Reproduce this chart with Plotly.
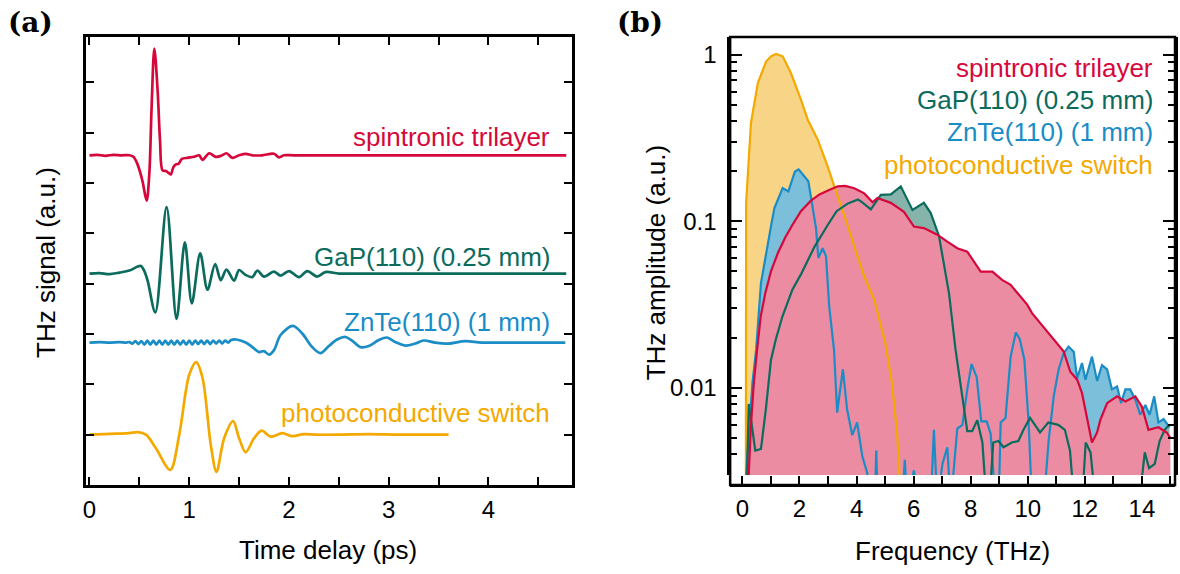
import math
import plotly.graph_objects as go

W, H = 1180, 574

# ---------------- panel (a): THz waveforms (time delay in ps, signal in a.u.) ----------------
t_spin = [0.0, 0.08, 0.16, 0.24, 0.32, 0.40, 0.44, 0.48, 0.53, 0.573, 0.60, 0.623, 0.65, 0.683, 0.707,
          0.733, 0.766, 0.793, 0.816, 0.84, 0.866, 0.893, 0.926, 0.983, 1.05, 1.10, 1.133, 1.20, 1.266,
          1.32, 1.373, 1.433, 1.50, 1.566, 1.633, 1.73, 1.85, 1.90, 1.95, 2.05, 2.5, 3.0, 3.5, 4.0, 4.5, 4.78]
s_spin = [0.0, 0.01, -0.01, 0.01, 0.0, 0.0, -0.03, -0.17, -0.50, -0.90, -0.36, 0.96, 2.12, 1.29, 0.30,
          -0.30, -0.31, -0.35, -0.38, -0.24, -0.18, -0.17, -0.07, -0.05, -0.03, 0.0, -0.09, 0.04, -0.03,
          -0.01, 0.04, -0.05, 0.0, 0.03, 0.0, 0.0, 0.03, -0.04, 0.0, 0.0, 0.0, 0.0, 0.0, 0.0, 0.0, 0.0]

t_gap = [0.0, 0.1, 0.2, 0.3, 0.40, 0.483, 0.516, 0.55, 0.583, 0.66, 0.773, 0.873, 0.956, 1.026, 1.11,
         1.183, 1.26, 1.316, 1.373, 1.45, 1.50, 1.56, 1.633, 1.683, 1.75, 1.85, 1.916, 2.0, 2.1, 2.183,
         2.283, 2.366, 2.5, 2.65, 2.83, 3.2, 3.6, 4.0, 4.4, 4.78]
s_gap = [0.0, 0.01, -0.01, 0.02, 0.06, 0.14, 0.15, 0.05, -0.14, -0.77, 1.32, -0.90, 0.62, -0.59, 0.40,
         -0.32, 0.19, -0.13, 0.08, -0.14, 0.07, -0.02, -0.07, 0.06, -0.06, 0.04, -0.04, 0.05, -0.07, 0.05,
         -0.06, 0.03, 0.0, 0.0, 0.0, 0.0, 0.0, 0.0, 0.0, 0.0]

t_znte = [0.0, 0.1, 0.2, 0.3, 0.37, 0.40, 0.43, 0.46, 0.49, 0.52, 0.55, 0.58, 0.61, 0.64, 0.67, 0.70,
          0.73, 0.76, 0.79, 0.82, 0.85, 0.88, 0.91, 0.94, 0.97, 1.00, 1.03, 1.06, 1.09, 1.12, 1.15, 1.18,
          1.21, 1.24, 1.27, 1.30, 1.33, 1.36, 1.39, 1.42, 1.47, 1.566, 1.633, 1.70, 1.75, 1.80, 1.85,
          1.916, 2.04, 2.133, 2.233, 2.316, 2.40, 2.483, 2.566, 2.65, 2.716, 2.80, 2.90, 2.983, 3.066,
          3.166, 3.266, 3.35, 3.466, 3.60, 3.766, 3.933, 4.2, 4.5, 4.77]
s_znte = [0.0, 0.01, 0.0, 0.01, 0.0, 0.01, -0.02, 0.03, -0.03, 0.03, -0.04, 0.04, -0.04, 0.04, -0.04,
          0.04, -0.04, 0.04, -0.04, 0.04, -0.04, 0.04, -0.04, 0.04, -0.04, 0.04, -0.04, 0.04, -0.03, 0.04,
          -0.03, 0.04, -0.03, 0.04, -0.02, 0.04, -0.02, 0.04, 0.0, 0.05, 0.06, 0.0, -0.09, -0.19, -0.17,
          -0.24, -0.15, 0.15, 0.33, 0.18, -0.09, -0.21, -0.07, 0.06, 0.11, 0.01, -0.09, -0.07, 0.05, 0.10,
          0.01, -0.06, -0.02, 0.04, 0.0, -0.02, 0.03, 0.0, 0.0, 0.0, 0.0]

t_pcs = [0.0, 0.15, 0.27, 0.40, 0.483, 0.566, 0.666, 0.81, 0.90, 1.0, 1.07, 1.133, 1.216, 1.273, 1.35,
         1.44, 1.50, 1.566, 1.65, 1.726, 1.816, 1.933, 2.033, 2.15, 2.27, 2.5, 2.8, 3.1, 3.6]
s_pcs = [0.0, 0.01, 0.02, 0.03, 0.05, 0.0, -0.27, -0.70, 0.0, 1.19, 1.44, 1.13, -0.2, -0.74, -0.07,
         0.27, -0.07, -0.35, -0.07, 0.08, -0.04, 0.03, -0.03, 0.01, 0.0, 0.0, 0.01, 0.0, 0.0]

offsets = [6.55, 4.2, 2.83, 1.0]   # vertical offsets of the four waveforms

# ---------------- panel (b): amplitude spectra (frequency in THz, amplitude in a.u.) ----------------
f_spin = [0.18, 0.22, 0.30, 0.40, 0.50, 0.64, 0.80, 1.00, 1.25, 1.50, 1.75, 2.05, 2.40, 2.70, 3.00, 3.34,
          3.60, 3.92, 4.27, 4.56, 4.73, 5.20, 5.66, 6.01, 6.36, 6.83, 7.18, 7.53, 7.88, 8.10, 8.35, 8.76,
          9.10, 9.40, 9.74, 9.98, 10.15, 10.44, 10.91, 11.26, 11.49, 11.73, 11.90, 12.08, 12.25, 12.43,
          12.54, 12.78, 13.13, 13.42, 13.77, 14.00, 14.23, 14.58, 14.87, 15.00]
a_spin = [0.001, 0.003, 0.006, 0.0107, 0.016, 0.0268, 0.037, 0.05, 0.065, 0.08, 0.095, 0.115, 0.133,
          0.145, 0.153, 0.162, 0.163, 0.158, 0.147, 0.130, 0.138, 0.129, 0.114, 0.093, 0.091, 0.0831,
          0.0755, 0.0689, 0.0657, 0.058, 0.0499, 0.0499, 0.0445, 0.0415, 0.0354, 0.0316, 0.0281, 0.0245,
          0.0197, 0.0165, 0.0125, 0.0112, 0.0093, 0.0067, 0.0047, 0.0054, 0.0064, 0.0081, 0.0089, 0.0083,
          0.0089, 0.0077, 0.0056, 0.0058, 0.0054, 0.005]

f_gap = [0.10, 0.16, 0.22, 0.30, 0.45, 0.65, 0.82, 1.00, 1.17, 1.40, 1.75, 2.05, 2.52, 2.99, 3.30, 3.70,
         4.05, 4.20, 4.50, 4.85, 5.20, 5.55, 5.96, 6.36, 6.60, 6.89, 7.06, 7.24, 7.47, 7.71, 7.88, 8.05,
         8.23, 8.41, 8.56, 8.65, 8.79, 8.97, 9.15, 9.44, 9.67, 9.85, 10.08, 10.43, 10.72, 11.07, 11.30,
         11.48, 11.63, 11.90, 12.03, 12.20, 12.38, 13.90, 14.10, 14.25, 14.45, 14.62, 14.80, 14.95]
a_gap = [0.001, 0.003, 0.008, 0.0065, 0.0042, 0.0043, 0.0074, 0.0147, 0.0195, 0.0268, 0.0388, 0.048,
         0.07, 0.095, 0.115, 0.128, 0.135, 0.13, 0.118, 0.144, 0.145, 0.162, 0.117, 0.129, 0.112, 0.0813,
         0.056, 0.0369, 0.0169, 0.0085, 0.0055, 0.0055, 0.0064, 0.0047, 0.002, 0.002, 0.0047, 0.0048,
         0.0044, 0.0047, 0.0048, 0.0056, 0.0066, 0.0054, 0.0062, 0.006, 0.0056, 0.0042, 0.002, 0.002,
         0.0047, 0.0041, 0.002, 0.002, 0.0041, 0.0033, 0.0035, 0.0048, 0.0056, 0.006]

f_znte = [0.06, 0.35, 0.48, 0.65, 1.00, 1.12, 1.41, 1.61, 1.84, 1.97, 2.31, 2.58, 2.66, 2.81, 2.93, 3.04,
          3.21, 3.32, 3.52, 3.67, 3.85, 4.02, 4.20, 4.37, 4.50, 4.64, 4.69, 4.74, 5.60, 5.69, 5.78, 6.01,
          6.18, 6.60, 6.71, 6.83, 7.01, 7.18, 7.30, 7.53, 7.71, 7.88, 8.03, 8.21, 8.37, 8.56, 8.70, 8.87,
          8.98, 9.05, 9.22, 9.40, 9.58, 9.72, 9.88, 10.03, 10.15, 10.56, 10.73, 10.91, 11.08, 11.26, 11.43,
          11.61, 11.73, 11.90, 12.02, 12.25, 12.43, 12.60, 12.78, 12.95, 13.13, 13.27, 13.42, 13.59, 13.77,
          13.94, 14.12, 14.27, 14.43, 14.58, 14.76, 14.97]
a_znte = [0.002, 0.0107, 0.0169, 0.0426, 0.093, 0.12, 0.158, 0.151, 0.199, 0.205, 0.174, 0.0907, 0.0602,
          0.0689, 0.0616, 0.031, 0.0169, 0.0071, 0.0129, 0.0074, 0.0052, 0.0062, 0.0039, 0.0031, 0.002,
          0.002, 0.0042, 0.002, 0.002, 0.0037, 0.002, 0.0032, 0.002, 0.002, 0.0056, 0.002, 0.0035, 0.0044,
          0.002, 0.0057, 0.006, 0.0098, 0.0139, 0.0116, 0.0063, 0.0063, 0.0053, 0.002, 0.002, 0.0062,
          0.0066, 0.0154, 0.0215, 0.0196, 0.0148, 0.0062, 0.002, 0.002, 0.0048, 0.0089, 0.0129, 0.0162,
          0.0177, 0.0165, 0.0114, 0.0141, 0.0112, 0.0154, 0.011, 0.0137, 0.0129, 0.0098, 0.0102, 0.0081,
          0.0098, 0.0098, 0.0085, 0.0069, 0.0079, 0.0069, 0.0089, 0.0062, 0.0065, 0.0058]

f_pcs = [0.05, 0.12, 0.13, 0.30, 0.54, 0.83, 1.00, 1.18, 1.41, 1.70, 2.05, 2.29, 2.64, 2.99, 3.34, 3.57,
         3.92, 4.27, 4.62, 5.01, 5.24, 5.42, 5.50, 5.60]
a_pcs = [0.001, 0.002, 0.129, 0.389, 0.676, 0.91, 0.977, 1.01, 0.977, 0.776, 0.537, 0.407, 0.309, 0.213,
         0.141, 0.109, 0.0706, 0.0466, 0.0338, 0.0185, 0.0107, 0.00535, 0.003, 0.002]

labels = ["spintronic trilayer", "GaP(110) (0.25 mm)", "ZnTe(110) (1 mm)", "photoconductive switch"]
line_colors = ["#d6083b", "#0b6b5d", "#1a8cc6", "#f4a900"]
fill_colors = ["#eb8ca3", "#86b4ab", "#7bbfda", "#f8d487"]

FONT = "Liberation Sans, Arial, sans-serif"


def px(x):
    return x / W


def py(y):
    return 1 - y / H


fig = go.Figure()

# panel (a) waveforms
for t, s, off, col in zip([t_spin, t_gap, t_znte, t_pcs], [s_spin, s_gap, s_znte, s_pcs], offsets, line_colors):
    fig.add_trace(go.Scatter(x=t, y=[v + off for v in s], mode="lines",
                             line=dict(color=col, width=2.7, shape="spline", smoothing=0.9),
                             xaxis="x", yaxis="y", showlegend=False, hoverinfo="skip"))

# panel (b) fills (drawn first, pink on top), then lines
spec_f = [f_spin, f_gap, f_znte, f_pcs]
spec_a = [a_spin, a_gap, a_znte, a_pcs]
BASE = 0.001
for i in [3, 2, 1, 0]:
    f, a = spec_f[i], spec_a[i]
    fig.add_trace(go.Scatter(x=f + [f[-1], f[0]], y=a + [BASE, BASE], mode="lines", fill="toself",
                             fillcolor=fill_colors[i], line=dict(width=0, color=fill_colors[i]),
                             xaxis="x2", yaxis="y2", showlegend=False, hoverinfo="skip"))
for i in [3, 2, 1, 0]:
    fig.add_trace(go.Scatter(x=spec_f[i], y=spec_a[i], mode="lines",
                             line=dict(color=line_colors[i], width=2.2),
                             xaxis="x2", yaxis="y2", showlegend=False, hoverinfo="skip"))

tickfont = dict(family=FONT, size=24, color="black")
LW = 2.5

fig.update_layout(
    width=W, height=H, margin=dict(l=0, r=0, t=0, b=0),
    paper_bgcolor="white", plot_bgcolor="white", showlegend=False,
    xaxis=dict(domain=[px(83), px(570)], range=[-0.037, 4.833], tickvals=[0, 1, 2, 3, 4],
               ticks="inside", ticklen=8, tickwidth=2, tickcolor="black",
               minor=dict(dtick=0.5, tick0=0, ticks="inside", ticklen=8, tickwidth=2, tickcolor="black"),
               showline=True, linewidth=LW, linecolor="black", mirror="ticks",
               showgrid=False, zeroline=False, tickfont=tickfont, anchor="y", ticklabelstandoff=1),
    yaxis=dict(domain=[py(485), py(37)], range=[0, 8.9], tickvals=[1, 2, 3, 4, 5, 6, 7, 8],
               ticks="inside", ticklen=8, tickwidth=2, tickcolor="black", showticklabels=False,
               showline=True, linewidth=LW, linecolor="black", mirror="ticks",
               showgrid=False, zeroline=False, anchor="x"),
    xaxis2=dict(domain=[px(729), px(1175)], range=[-0.43, 15.16], tickvals=list(range(0, 15, 2)),
                ticks="inside", ticklen=8, tickwidth=2, tickcolor="black",
                minor=dict(dtick=1, tick0=0, ticks="inside", ticklen=8, tickwidth=2, tickcolor="black"),
                showline=True, linewidth=LW, linecolor="black",
                showgrid=False, zeroline=False, tickfont=tickfont, anchor="free", position=py(485),
                ticklabelstandoff=1),
    xaxis3=dict(domain=[px(729), px(1175)], range=[-0.43, 15.16], tickvals=list(range(0, 16)),
                overlaying="x2", side="top", anchor="y2", showticklabels=False,
                ticks="inside", ticklen=8, tickwidth=2, tickcolor="black",
                showline=True, linewidth=LW, linecolor="black", showgrid=False, zeroline=False),
    yaxis2=dict(domain=[py(475), py(37)], type="log", range=[math.log10(0.003), 0.106],
                tickvals=[0.01, 0.1, 1], ticktext=["0.01", "0.1", "1"],
                ticks="inside", ticklen=12, tickwidth=2, tickcolor="black",
                minor=dict(tickvals=[0.003, 0.004, 0.005, 0.006, 0.007, 0.008, 0.009,
                                     0.02, 0.03, 0.04, 0.05, 0.06, 0.07, 0.08, 0.09,
                                     0.2, 0.3, 0.4, 0.5, 0.6, 0.7, 0.8, 0.9],
                           ticks="inside", ticklen=7, tickwidth=2, tickcolor="black"),
                showline=True, linewidth=LW, linecolor="black", mirror="ticks",
                showgrid=False, zeroline=False, tickfont=tickfont, anchor="x2", ticklabelstandoff=6),
)

# frame of panel (b)
fig.add_shape(type="rect", xref="paper", yref="paper", x0=px(729), x1=px(1175), y0=py(485), y1=py(37),
              line=dict(color="black", width=LW), layer="above")

ann_font = 26
# series labels in (a)
for lab, col, yc in zip(labels, line_colors, [137, 257, 322, 413]):
    fig.add_annotation(x=px(550), y=py(yc), xref="paper", yref="paper", text=lab, showarrow=False,
                       xanchor="right", yanchor="middle", font=dict(family=FONT, size=ann_font, color=col))
# series labels in (b)
for lab, col, yc in zip(labels, line_colors, [68, 100, 132, 165]):
    fig.add_annotation(x=px(1155), y=py(yc), xref="paper", yref="paper", text=lab, showarrow=False,
                       xanchor="right", yanchor="middle", font=dict(family=FONT, size=ann_font, color=col))

# axis titles
fig.add_annotation(x=px(326), y=py(550), xref="paper", yref="paper", text="Time delay (ps)", showarrow=False,
                   xanchor="center", yanchor="middle", font=dict(family=FONT, size=26, color="black"))
fig.add_annotation(x=px(952), y=py(551), xref="paper", yref="paper", text="Frequency (THz)", showarrow=False,
                   xanchor="center", yanchor="middle", font=dict(family=FONT, size=26, color="black"))
fig.add_annotation(x=px(43), y=py(262), xref="paper", yref="paper", text="THz signal (a.u.)", showarrow=False,
                   textangle=-90, xanchor="center", yanchor="middle", font=dict(family=FONT, size=26, color="black"))
fig.add_annotation(x=px(655), y=py(262), xref="paper", yref="paper", text="THz amplitude (a.u.)",
                   showarrow=False, textangle=-90, xanchor="center", yanchor="middle",
                   font=dict(family=FONT, size=26, color="black"))

# panel labels
for lab, xc in [("(a)", 28), ("(b)", 639)]:
    fig.add_annotation(x=px(xc), y=py(22), xref="paper", yref="paper", text="<b>%s</b>" % lab, showarrow=False,
                       xanchor="center", yanchor="middle",
                       font=dict(family="DejaVu Serif, serif", size=28, color="black"))

fig.write_html("out.html")
